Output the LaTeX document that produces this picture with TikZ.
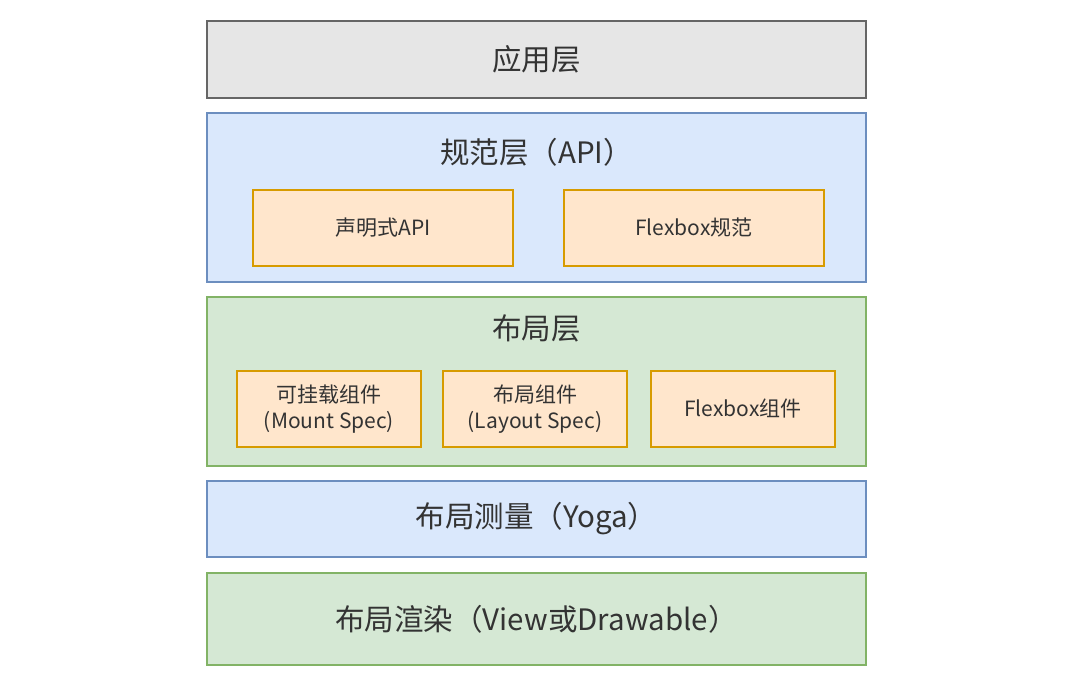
\documentclass[tikz,border=0pt]{standalone}
\usepackage{fontspec}
\setmainfont{Noto Sans CJK SC}
\usepackage{tikz}
\usepackage{xcolor}

\definecolor{txtgray}{HTML}{333333}
\definecolor{appfill}{HTML}{E6E6E6}
\definecolor{appline}{HTML}{666666}
\definecolor{bluefill}{HTML}{DAE8FC}
\definecolor{blueline}{HTML}{6C8EBF}
\definecolor{greenfill}{HTML}{D5E8D4}
\definecolor{greenline}{HTML}{82B366}
\definecolor{orangefill}{HTML}{FFE6CC}
\definecolor{orangeline}{HTML}{D79B00}

\begin{document}
\begin{tikzpicture}[x=1pt,y=-1pt,line width=1.1pt,text=txtgray,
  layer/.style={rectangle,inner sep=0pt,minimum width=659pt},
  part/.style={rectangle,inner sep=0pt,fill=orangefill,draw=orangeline,minimum height=76pt,align=center,font=\fontsize{21}{26}\selectfont},
  title/.style={font=\fontsize{29.5}{34}\selectfont}]
\useasboundingbox (0,0) rectangle (1080,687);
% layers, top to bottom
\node[layer,fill=appfill,draw=appline,minimum height=77pt,title] (app) at (536.5,59.5) {应用层};
\node[layer,fill=bluefill,draw=blueline,minimum height=169pt] (spec) at (536.5,197.5) {};
\node[title] (spectitle) at (536.5,152) {规范层（API）};
\node[part,minimum width=260pt] (declapi) at (383,228) {声明式API};
\node[part,minimum width=260pt] (flexspec) at (694,228) {Flexbox规范};
\node[layer,fill=greenfill,draw=greenline,minimum height=169pt] (layout) at (536.5,381.5) {};
\node[title] (layouttitle) at (536.5,328) {布局层};
\node[part,minimum width=184pt] (mount) at (329,409) {可挂载组件\\(Mount Spec)};
\node[part,minimum width=184pt] (layoutspec) at (535,409) {布局组件\\(Layout Spec)};
\node[part,minimum width=184pt] (flexcomp) at (743,409) {Flexbox组件};
\node[layer,fill=bluefill,draw=blueline,minimum height=76pt,title] (yoga) at (536.5,519) {布局测量（Yoga）};
\node[layer,fill=greenfill,draw=greenline,minimum height=92pt,title] (render) at (536.5,619) {布局渲染（View或Drawable）};
\end{tikzpicture}
\end{document}
